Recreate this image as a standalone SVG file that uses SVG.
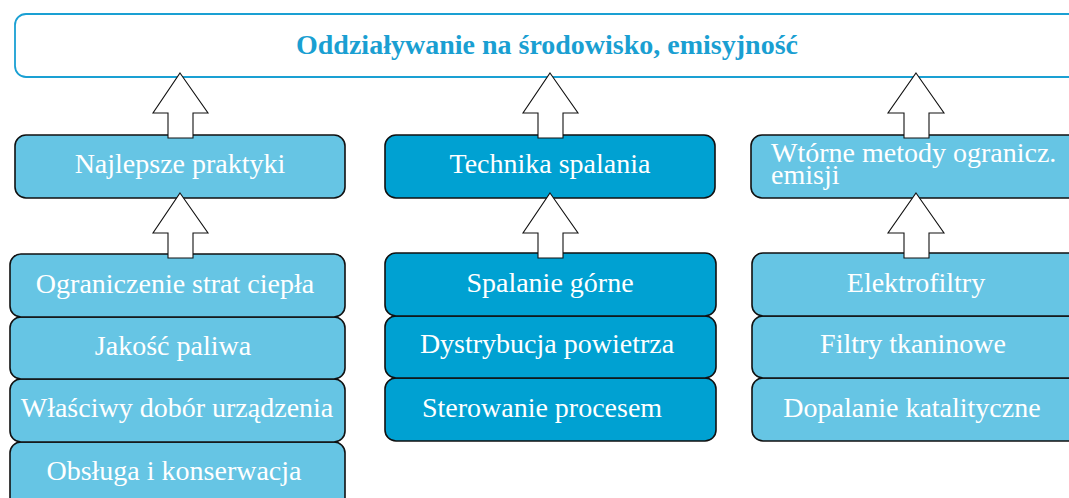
<svg xmlns="http://www.w3.org/2000/svg" width="1069" height="498" viewBox="0 0 1069 498">
<style>
.lt{fill:#66C5E4;stroke:#111;stroke-width:1.6}
.dk{fill:#00A1D2;stroke:#111;stroke-width:1.6}
.t{font-family:"Liberation Serif",serif;font-size:28px;fill:#fff;text-anchor:middle}
.ar{fill:#fff;stroke:#111;stroke-width:1.1;stroke-linejoin:miter}
</style>
<rect width="1069" height="498" fill="#fff"/>
<g id="title">
<rect x="15" y="14" width="1070" height="63" rx="11" fill="#fff" stroke="#1AA0D3" stroke-width="1.8"/>
<text x="547" y="54" font-family="Liberation Serif,serif" font-size="28" font-weight="bold" fill="#1A9FD2" text-anchor="middle">Oddziaływanie na środowisko, emisyjność</text>
</g>
<g id="najlepsze">
<rect class="lt" x="15" y="135" width="330" height="63" rx="11"/>
<text class="t" x="180" y="173">Najlepsze praktyki</text>
</g>
<g id="technika">
<rect class="dk" x="385" y="135" width="330" height="63" rx="11"/>
<text class="t" x="550" y="173">Technika spalania</text>
</g>
<g id="wtorne">
<rect class="lt" x="751" y="135" width="340" height="63" rx="11"/>
<text class="t" x="771" y="162" style="text-anchor:start">Wtórne metody ogranicz.</text>
<text class="t" x="771" y="184" style="text-anchor:start">emisji</text>
</g>
<g id="obsluga">
<rect class="lt" x="10" y="442" width="335" height="70" rx="11"/>
<text class="t" x="174" y="480">Obsługa i konserwacja</text>
</g>
<g id="wlasciwy">
<rect class="lt" x="10" y="379" width="335" height="63" rx="11"/>
<text class="t" x="177" y="417">Właściwy dobór urządzenia</text>
</g>
<g id="jakosc">
<rect class="lt" x="10" y="317" width="335" height="62" rx="11"/>
<text class="t" x="173" y="355">Jakość paliwa</text>
</g>
<g id="ograniczenie">
<rect class="lt" x="10" y="254" width="335" height="63" rx="11"/>
<text class="t" x="175" y="293">Ograniczenie strat ciepła</text>
</g>
<g id="sterowanie">
<rect class="dk" x="385" y="378" width="331" height="63" rx="11"/>
<text class="t" x="542" y="417">Sterowanie procesem</text>
</g>
<g id="dystrybucja">
<rect class="dk" x="385" y="316" width="331" height="62" rx="11"/>
<text class="t" x="547" y="353">Dystrybucja powietrza</text>
</g>
<g id="spalanie">
<rect class="dk" x="385" y="253" width="331" height="63" rx="11"/>
<text class="t" x="550" y="292">Spalanie górne</text>
</g>
<g id="dopalanie">
<rect class="lt" x="752" y="378" width="340" height="63" rx="11"/>
<text class="t" x="912" y="417">Dopalanie katalityczne</text>
</g>
<g id="filtry">
<rect class="lt" x="752" y="316" width="340" height="62" rx="11"/>
<text class="t" x="913" y="353">Filtry tkaninowe</text>
</g>
<g id="elektrofiltry">
<rect class="lt" x="752" y="253" width="340" height="63" rx="11"/>
<text class="t" x="916" y="292">Elektrofiltry</text>
</g>
<g id="connectors">
<path class="ar" d="M180,73 L208,113 L193,113 L193,138 L168,138 L168,113 L153,113 Z"/>
<path class="ar" d="M550,73 L578,113 L563,113 L563,138 L538,138 L538,113 L523,113 Z"/>
<path class="ar" d="M916,73 L944,113 L929,113 L929,138 L904,138 L904,113 L888,113 Z"/>
<path class="ar" d="M180,193 L208,233 L193,233 L193,258 L168,258 L168,233 L153,233 Z"/>
<path class="ar" d="M550,193 L578,233 L563,233 L563,258 L538,258 L538,233 L523,233 Z"/>
<path class="ar" d="M916,193 L944,233 L929,233 L929,258 L904,258 L904,233 L888,233 Z"/>
</g>
</svg>
